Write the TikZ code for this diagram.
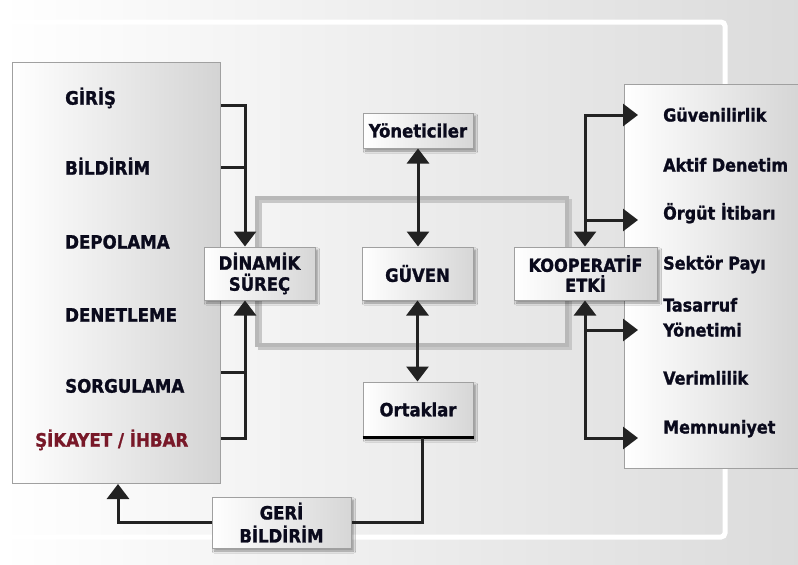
\documentclass[tikz,border=0pt]{standalone}
\usepackage{fontspec}
\setmainfont{DejaVu Sans Condensed}[BoldFeatures={FakeBold=1.3}]
\usetikzlibrary{arrows.meta,shadows.blur}
\definecolor{txt}{RGB}{10,10,28}
\definecolor{redtxt}{RGB}{120,24,40}
\definecolor{conncol}{RGB}{34,34,34}
\definecolor{boxedge}{RGB}{160,160,160}
\tikzset{
  conn/.style={draw=conncol, line width=3pt},
  tipend/.style={-{Triangle[width=22pt,length=15pt]}},
  tipboth/.style={{Triangle[width=22pt,length=15pt]}-{Triangle[width=22pt,length=15pt]}},
  panel/.style={draw=boxedge, line width=1pt, left color=white, middle color=white, right color=black!17, inner sep=0pt},
  smallbox/.style={draw=boxedge, line width=1pt, left color=white, middle color=white!96!black, right color=black!16,
     inner sep=0pt, align=center, text=txt, font=\fontsize{18.3}{21}\selectfont\bfseries,
     blur shadow={shadow xshift=2.5pt, shadow yshift=-3pt, shadow opacity=40, shadow blur steps=6}},
  lbl/.style={anchor=west, inner sep=0pt, text height=13.3pt, text depth=0pt, text=txt, font=\fontsize{18.5}{20}\selectfont\bfseries},
  rlbl/.style={anchor=west, inner sep=0pt, text height=13pt, text depth=0pt, text=txt, font=\fontsize{17.8}{20}\selectfont\bfseries},
}
\begin{document}
\begin{tikzpicture}[x=1pt,y=-1pt]
\useasboundingbox (0,0) rectangle (798,565);
% background
\shade[left color=white, middle color=white, right color=black!14] (0,0) rectangle (798,565);
\draw[white, line width=5pt, rounded corners=4pt] (7,22) rectangle (725,537);
% inner frame
\draw[black!22, line width=4pt] (260,201) rectangle (570,348);
\draw[black!28, line width=3.5pt] (257,198) rectangle (567,345);

% left panel
\node[panel, minimum width=208pt, minimum height=421pt, anchor=north west] (L) at (12,62) {};
% right panel
\node[panel, minimum width=182pt, minimum height=384pt, anchor=north west] (R) at (624,84) {};

% left labels
\node[lbl] (giris) at (65,98) {GİRİŞ};
\node[lbl] (bildirim) at (65,168) {BİLDİRİM};
\node[lbl] (depolama) at (65,242) {DEPOLAMA};
\node[lbl] (denetleme) at (65,315) {DENETLEME};
\node[lbl] (sorgulama) at (65,386) {SORGULAMA};
\node[lbl, text=redtxt] (sikayet) at (35,440) {ŞİKAYET / İHBAR};

% right labels
\node[rlbl] (guvenilirlik) at (663,115) {Güvenilirlik};
\node[rlbl] (aktif) at (663,165) {Aktif Denetim};
\node[rlbl] (orgut) at (663,213) {Örgüt İtibarı};
\node[rlbl] (sektor) at (663,263) {Sektör Payı};
\node[rlbl] (tasarruf) at (663,305) {Tasarruf};
\node[rlbl] (yonetimi) at (663,330) {Yönetimi};
\node[rlbl] (verimlilik) at (663,378) {Verimlilik};
\node[rlbl] (memnuniyet) at (663,427) {Memnuniyet};

% boxes
\node[smallbox, minimum width=111pt, minimum height=53pt] (DS) at (259.5,273.5) {DİNAMİK\\SÜREÇ};
\node[smallbox, minimum width=111pt, minimum height=53pt] (G) at (417.5,273.5) {GÜVEN};
\node[smallbox, minimum width=143pt, minimum height=53pt, font=\fontsize{18}{20}\selectfont\bfseries] (K) at (585.5,273.5) {KOOPERATİF\\ETKİ};
\node[smallbox, minimum width=110pt, minimum height=35pt] (Y) at (418,130.5) {Yöneticiler};
\node[smallbox, minimum width=110pt, minimum height=55pt] (O) at (418,409.5) {Ortaklar};
\draw[black, line width=3.5pt] (O.south west) -- (O.south east);
\node[smallbox, minimum width=139pt, minimum height=51pt, font=\fontsize{18.3}{23}\selectfont\bfseries] (GB) at (281.5,522.5) {GERİ\\BİLDİRİM};

% coordinates
\coordinate (vtop) at (245,167);
\coordinate (vbot) at (245,372);
\coordinate (rj1) at (585,220);
\coordinate (rj2) at (585,330);
\coordinate (t1) at (638,115);
\coordinate (t2) at (638,220);
\coordinate (t3) at (638,330);
\coordinate (t4) at (638,438);

% left connectors
\draw[conn, tipend] (L.east |- 0,105) -| (DS.north -| 245,0);
\draw[conn] (L.east |- 0,167) -- (vtop);
\draw[conn, tipend] (L.east |- 0,438) -| (DS.south -| 245,0);
\draw[conn] (L.east |- 0,372) -- (vbot);

% centre connectors
\draw[conn, tipboth] (Y.south) -- (Y.south |- G.north);
\draw[conn, tipboth] (G.south) -- (G.south |- O.north);
\draw[conn] (O.south -| 422,0) |- (GB.east);
\draw[conn, tipend] (GB.west) -| (L.south -| 118,0);

% right connectors
\draw[conn, tipboth] (K.north -| 585,0) -- (585,115) -- (t1);
\draw[conn, tipend] (rj1) -- (t2);
\draw[conn, tipboth] (K.south -| 585,0) -- (585,438) -- (t4);
\draw[conn, tipend] (rj2) -- (t3);
\end{tikzpicture}
\end{document}
